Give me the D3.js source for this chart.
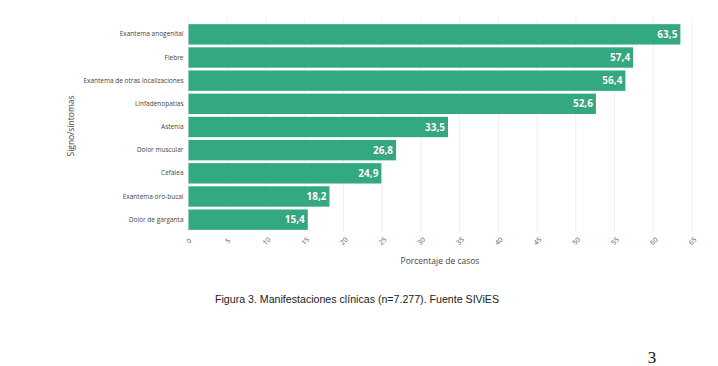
<!DOCTYPE html>
<html><head><meta charset="utf-8">
<script src="https://cdn.jsdelivr.net/npm/d3@7"></script>
<style>body{margin:0;background:#fff}svg{display:block}</style>
</head><body>
<svg id="c" width="718" height="366"></svg>
<script>
const categories = ["Exantema anogenital","Fiebre","Exantema de otras localizaciones","Linfadenopatías","Astenia","Dolor muscular","Cefalea","Exantema oro-bucal","Dolor de garganta"];
const values = [63.5,57.4,56.4,52.6,33.5,26.8,24.9,18.2,15.4];
const xTicks = [0,5,10,15,20,25,30,35,40,45,50,55,60,65];
const xTitle = "Porcentaje de casos";
const yTitle = "Signo/síntomas";
const caption = "Figura 3. Manifestaciones clínicas (n=7.277). Fuente SIViES";
const pageNum = "3";

const svg = d3.select("#c");
const font = "'Open Sans', sans-serif";
const x = d3.scaleLinear().domain([0,65]).range([188.5,692]);
const y = d3.scaleBand().domain(categories).range([23,231]).paddingInner(0.12).paddingOuter(0.05);

// gridlines
svg.append("g").selectAll("line").data(xTicks).join("line")
  .attr("x1",d=>x(d)).attr("x2",d=>x(d)).attr("y1",18).attr("y2",232)
  .attr("stroke","#efefef").attr("stroke-width",1);

// bars
svg.append("g").selectAll("rect").data(values).join("rect")
  .attr("x",x(0)).attr("y",(d,i)=>y(categories[i]))
  .attr("width",d=>x(d)-x(0)).attr("height",y.bandwidth())
  .attr("fill","#33a982");

// value labels
svg.append("g").selectAll("text").data(values).join("text")
  .attr("x",d=>x(d)-3).attr("y",(d,i)=>y(categories[i])+y.bandwidth()/2)
  .attr("dy","0.35em").attr("text-anchor","end")
  .attr("font-family",font).attr("font-weight","bold").attr("font-size",10)
  .attr("fill","#fff").attr("stroke","#2c7a5f").attr("stroke-width",0.4).attr("paint-order","stroke")
  .text(d=>d.toFixed(1).replace(".",","));

// y axis labels
const ya = svg.append("g").attr("transform",`translate(${x(0)},0)`)
  .call(d3.axisLeft(y).tickSize(0).tickPadding(5));
ya.select(".domain").remove();
ya.selectAll("text").attr("font-family",font).attr("font-size",6.5).attr("fill","#444");

// x axis
const xa = svg.append("g").attr("transform",`translate(0,232)`)
  .call(d3.axisBottom(x).tickValues(xTicks).tickSize(0).tickPadding(0));
xa.select(".domain").remove();
xa.selectAll("text").attr("font-family",font).attr("font-size",6.8).attr("fill","#555")
  .attr("text-anchor","middle")
  .attr("transform",d=>`translate(0,9) rotate(-45)`).attr("y",0).attr("dy","0.35em");

// titles
svg.append("text").attr("x",440).attr("y",264).attr("text-anchor","middle")
  .attr("font-family",font).attr("font-size",8.5).attr("fill","#444").text(xTitle);
svg.append("text").attr("transform","translate(74,126) rotate(-90)").attr("text-anchor","middle")
  .attr("font-family",font).attr("font-size",8.5).attr("fill","#444").text(yTitle);

// caption
svg.append("text").attr("x",357).attr("y",303).attr("text-anchor","middle")
  .attr("font-family","'Liberation Sans', sans-serif").attr("font-size",11.5).attr("fill","#222")
  .attr("textLength",284).attr("lengthAdjust","spacingAndGlyphs").text(caption);
svg.append("text").attr("x",652).attr("y",363).attr("text-anchor","middle")
  .attr("font-family","'Liberation Serif', serif").attr("font-size",17).attr("fill","#111").text(pageNum);
</script>
</body></html>
